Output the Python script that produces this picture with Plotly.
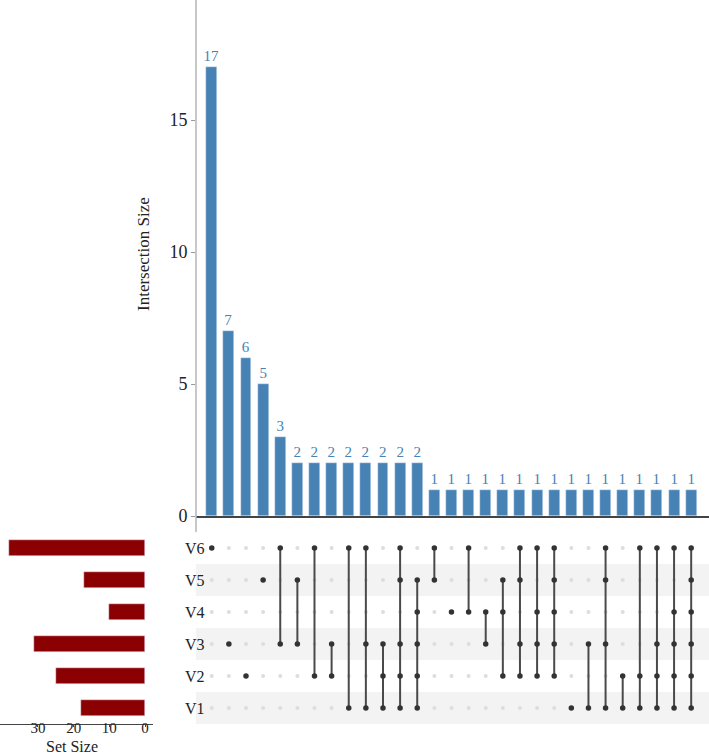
import plotly.graph_objects as go

# ---------------- data ----------------
set_names = ["V1", "V2", "V3", "V4", "V5", "V6"]
set_sizes = [18, 25, 31, 10, 17, 38]
set_size_ticks = [0, 10, 20, 30]

intersection_sizes = [17, 7, 6, 5, 3, 2, 2, 2, 2, 2, 2, 2, 2,
                      1, 1, 1, 1, 1, 1, 1, 1, 1, 1, 1, 1, 1, 1, 1, 1]
intersection_ticks = [0, 5, 10, 15]

intersection_members = [
    ["V6"], ["V3"], ["V2"], ["V5"],
    ["V6", "V3"], ["V5", "V3"], ["V6", "V2"], ["V3", "V2"], ["V6", "V1"],
    ["V6", "V3", "V1"], ["V3", "V2", "V1"], ["V6", "V5", "V3", "V2", "V1"],
    ["V5", "V4", "V3", "V2", "V1"],
    ["V6", "V5"], ["V4"], ["V6", "V4"], ["V4", "V3"], ["V5", "V4", "V2"],
    ["V6", "V5", "V3", "V2"], ["V6", "V4", "V3", "V2"],
    ["V6", "V5", "V4", "V3", "V2"], ["V1"], ["V3", "V1"],
    ["V6", "V5", "V3", "V1"], ["V2", "V1"], ["V6", "V2", "V1"],
    ["V6", "V3", "V2", "V1"], ["V6", "V4", "V3", "V2", "V1"],
    ["V6", "V5", "V4", "V3", "V2", "V1"],
]

# ---------------- layout constants ----------------
W, H = 709, 756
FONT = "Liberation Serif, Times New Roman, serif"
BAR_COLOR = "#4682B4"
SET_COLOR = "#8B0000"
TXT = "#222222"

n_cols = len(intersection_sizes)
cols = list(range(1, n_cols + 1))
row_of = {name: i + 1 for i, name in enumerate(set_names)}
set_rows = list(range(1, len(set_names) + 1))

x_left = 196 / W
matrix_dom = [1 - 724 / H, 1 - 532 / H]
top_dom = [1 - 516 / H, 1.0]
col_range = [0.08, 30.04]
set_range = [40.65, -2.24]

fig = go.Figure()

# top bar chart
fig.add_trace(go.Bar(
    x=cols, y=intersection_sizes, marker_color=BAR_COLOR, width=0.64,
    text=[str(v) for v in intersection_sizes], textposition="outside",
    constraintext="none",
    textfont=dict(color=BAR_COLOR, size=15, family=FONT),
    cliponaxis=False, xaxis="x", yaxis="y", showlegend=False,
    hoverinfo="skip"))

# matrix: empty dots
ex, ey = [], []
for c in cols:
    for r in set_rows:
        ex.append(c)
        ey.append(r)
fig.add_trace(go.Scatter(
    x=ex, y=ey, mode="markers", marker=dict(color="#dddddd", size=4),
    xaxis="x2", yaxis="y2", showlegend=False, hoverinfo="skip"))

# matrix: connecting lines + filled dots
lx, ly, fx, fy = [], [], [], []
for c, members in zip(cols, intersection_members):
    rows = sorted(row_of[m] for m in members)
    for r in rows:
        fx.append(c)
        fy.append(r)
    if len(rows) > 1:
        lx += [c, c, None]
        ly += [rows[0], rows[-1], None]
fig.add_trace(go.Scatter(
    x=lx, y=ly, mode="lines", line=dict(color="#4a4a4a", width=2),
    xaxis="x2", yaxis="y2", showlegend=False, hoverinfo="skip"))
fig.add_trace(go.Scatter(
    x=fx, y=fy, mode="markers", marker=dict(color="#333333", size=5.5),
    xaxis="x2", yaxis="y2", showlegend=False, hoverinfo="skip"))

# set size bars
fig.add_trace(go.Bar(
    x=set_sizes, y=set_rows, orientation="h",
    marker_color=SET_COLOR, width=0.47, xaxis="x3", yaxis="y3",
    showlegend=False, hoverinfo="skip"))
# invisible copy that carries the tick-label axis
fig.add_trace(go.Bar(
    x=set_sizes, y=set_rows, orientation="h", opacity=0,
    marker_color=SET_COLOR, width=0.47, xaxis="x4", yaxis="y3",
    showlegend=False, hoverinfo="skip"))

# stripes
shapes = []
for name in ["V1", "V3", "V5"]:
    r = row_of[name]
    shapes.append(dict(type="rect", xref="paper", yref="y2",
                       x0=x_left, x1=1, y0=r - 0.5, y1=r + 0.5,
                       fillcolor="#f3f3f3", line_width=0, layer="below"))
# y axis line of top chart extending slightly below 0
shapes.append(dict(type="line", xref="paper", yref="paper",
                   x0=x_left, x1=x_left, y0=1 - 532 / H, y1=1,
                   line=dict(color="#b5b5b5", width=1.5)))

annotations = []
for name in set_names:
    annotations.append(dict(text=name, xref="paper", yref="y2",
                            x=183 / W, y=row_of[name], xanchor="left",
                            yanchor="middle", showarrow=False,
                            font=dict(size=16, family=FONT, color=TXT)))
annotations.append(dict(text="Intersection Size", xref="paper", yref="paper",
                        x=143 / W, y=1 - 254 / H, textangle=-90,
                        xanchor="center", yanchor="middle", showarrow=False,
                        font=dict(size=17, family=FONT, color=TXT)))
annotations.append(dict(text="Set Size", xref="paper", yref="paper",
                        x=72 / W, y=0, borderpad=0,
                        xanchor="center", yanchor="bottom", showarrow=False,
                        font=dict(size=16, family=FONT, color=TXT)))

fig.update_layout(
    width=W, height=H, margin=dict(l=0, r=0, t=0, b=0, autoexpand=False),
    paper_bgcolor="white", plot_bgcolor="rgba(0,0,0,0)",
    font=dict(family=FONT, color=TXT),
    shapes=shapes, annotations=annotations, bargap=0, barmode="overlay",
    xaxis=dict(domain=[x_left, 1], range=col_range, showticklabels=False,
               ticks="", showgrid=False, zeroline=False, showline=True,
               linecolor="#444", linewidth=1.5, anchor="y",
               automargin=False),
    yaxis=dict(domain=top_dom, range=[0, 19.55], tickvals=intersection_ticks,
               ticks="outside", ticklen=4, tickcolor="#999",
               tickfont=dict(size=18, family=FONT, color=TXT),
               showgrid=False, zeroline=False, showline=False,
               anchor="x", automargin=False),
    xaxis2=dict(domain=[x_left, 1], range=col_range, visible=False,
                anchor="y2", automargin=False),
    yaxis2=dict(domain=matrix_dom, range=[0.5, 6.5], visible=False,
                anchor="x2", automargin=False),
    xaxis3=dict(domain=[0, 153 / W], range=set_range,
                tickvals=set_size_ticks, ticks="outside", ticklen=2,
                tickcolor="#444", showticklabels=False,
                showgrid=False, zeroline=False, showline=True,
                linecolor="#444", linewidth=1,
                anchor="y3", automargin=False),
    xaxis4=dict(domain=[0, 153 / W], range=set_range, overlaying="x3",
                tickvals=set_size_ticks, ticks="",
                tickfont=dict(size=15, family=FONT, color=TXT),
                showgrid=False, zeroline=False, showline=False,
                anchor="free", position=1 - 717 / H, side="bottom",
                automargin=False),
    yaxis3=dict(domain=matrix_dom, range=[0.5, 6.5], visible=False,
                anchor="x3", automargin=False),
)

fig.write_html("out.html")
